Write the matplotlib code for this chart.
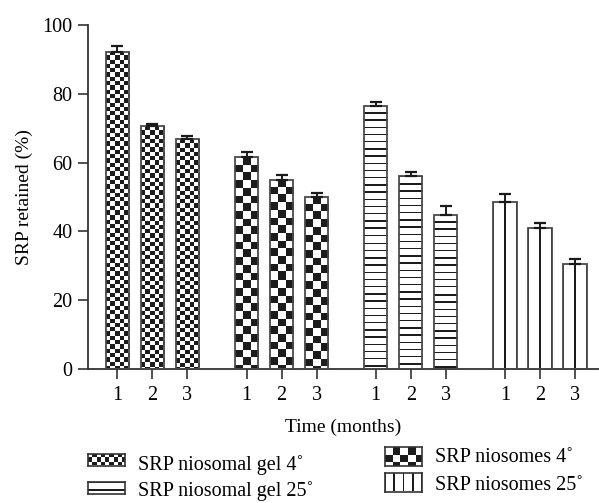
import numpy as np
import matplotlib
matplotlib.use('Agg')
import matplotlib.pyplot as plt
from matplotlib.colors import ListedColormap

plt.rcParams['font.family'] = ['Liberation Serif', 'DejaVu Serif']

# values (groups left to right)
months = ['1', '2', '3']
gel_4 = [92.2, 70.6, 66.8]
gel_4_err = [1.7, 0.7, 0.9]
nio_4 = [61.6, 55.0, 50.0]
nio_4_err = [1.4, 1.4, 1.3]
gel_25 = [76.5, 56.1, 44.9]
gel_25_err = [1.2, 1.3, 2.5]
nio_25 = [48.5, 41.0, 30.5]
nio_25_err = [2.5, 1.3, 1.6]

series = [
    ('SRP niosomal gel 4˚', gel_4, gel_4_err, 'fine'),
    ('SRP niosomes 4˚', nio_4, nio_4_err, 'coarse'),
    ('SRP niosomal gel 25˚', gel_25, gel_25_err, 'hlines'),
    ('SRP niosomes 25˚', nio_25, nio_25_err, 'vlines'),
]

W, H = 599, 503
fig = plt.figure(figsize=(W / 100, H / 100), dpi=100)
ax = fig.add_axes([88 / W, 1 - 369 / H, 1 - 88 / W, (369 - 25) / H])

xmin, xmax = -0.84, 13.76
ax.set_xlim(xmin, xmax)
ax.set_ylim(0, 100)
px_x = (W - 88) / (xmax - xmin)
px_y = (369 - 25) / 100.0

cmap = ListedColormap(['white', '#1c1c1c'])


def texture(kind, w, h):
    w = max(int(round(w)), 1)
    h = max(int(round(h)), 1)
    xx, yy = np.meshgrid(np.arange(w) + 0.5, np.arange(h) + 0.5)
    if kind == 'fine':
        s = 4.3
        return ((xx // s + yy // s) % 2).astype(float)
    if kind == 'coarse':
        s = 7.7
        return ((xx // s + yy // s) % 2).astype(float)
    if kind == 'hlines':
        return ((yy % 7.2) < 1.4).astype(float)
    # vertical lines, one through the middle
    sp = 11.75 if w < 30 else w / 4.0
    return (np.abs(((xx - w / 2.0 + sp / 2) % sp) - sp / 2) < 0.8).astype(float)


width = 0.67
gap = 3.69
positions = []
for g, (label, vals, errs, kind) in enumerate(series):
    xs = np.arange(3) + g * gap
    positions.extend(xs)
    bars = ax.bar(xs, vals, width, color='white', edgecolor='none', zorder=1)
    for b in bars:
        x0, y1 = b.get_x(), b.get_height()
        tex = texture(kind, b.get_width() * px_x, y1 * px_y)
        im = ax.imshow(tex, cmap=cmap, vmin=0, vmax=1, origin='upper',
                       extent=(x0, x0 + b.get_width(), 0, y1),
                       aspect='auto', interpolation='nearest', zorder=2)
        im.set_clip_path(b)
    ax.bar(xs, vals, width, facecolor='none', edgecolor='#4a4a4a',
           linewidth=1.3, zorder=3)
    ax.errorbar(xs, vals, yerr=[np.zeros(3), errs], fmt='none',
                ecolor='#1a1a1a', elinewidth=1.4, capsize=4.6, capthick=1.6,
                zorder=4)

ax.set_xlim(xmin, xmax)
ax.set_ylim(0, 100)
ax.set_xticks(positions)
ax.set_xticklabels(months * 4)
ax.set_yticks([0, 20, 40, 60, 80, 100])
for s in ['top', 'right']:
    ax.spines[s].set_visible(False)
for s in ['left', 'bottom']:
    ax.spines[s].set_linewidth(1.3)
    ax.spines[s].set_color('#333333')
ax.tick_params(direction='out', length=7, width=1.2, color='#333333',
               labelsize=14.5, pad=4)
ax.tick_params(axis='x', pad=5)
ax.set_xlabel('Time (months)', fontsize=14, labelpad=10)
ax.set_ylabel('SRP retained (%)', fontsize=14, labelpad=7)

# legend drawn by hand (checker patterns are not matplotlib hatches)
legend_spots = [
    # series index, handle left px, handle centre y px, handle height, text y
    (0, 88, 459.5, 12, 465),
    (1, 385, 456.5, 19, 457),
    (2, 88, 488, 12, 491),
    (3, 385, 482, 19, 485),
]
for idx, hx, hy, hh, ty in legend_spots:
    label, vals, errs, kind = series[idx]
    lax = fig.add_axes([hx / W, 1 - (hy + hh / 2) / H, 37 / W, hh / H])
    lax.imshow(texture(kind, 37, hh), cmap=cmap, vmin=0, vmax=1,
               aspect='auto', interpolation='nearest')
    lax.set_xticks([])
    lax.set_yticks([])
    for s in lax.spines.values():
        s.set_color('#333333')
        s.set_linewidth(1.2)
    fig.text((hx + 50) / W, 1 - ty / H, label, fontsize=14.5,
             va='center', ha='left')

fig.savefig('out.png', dpi=100)
